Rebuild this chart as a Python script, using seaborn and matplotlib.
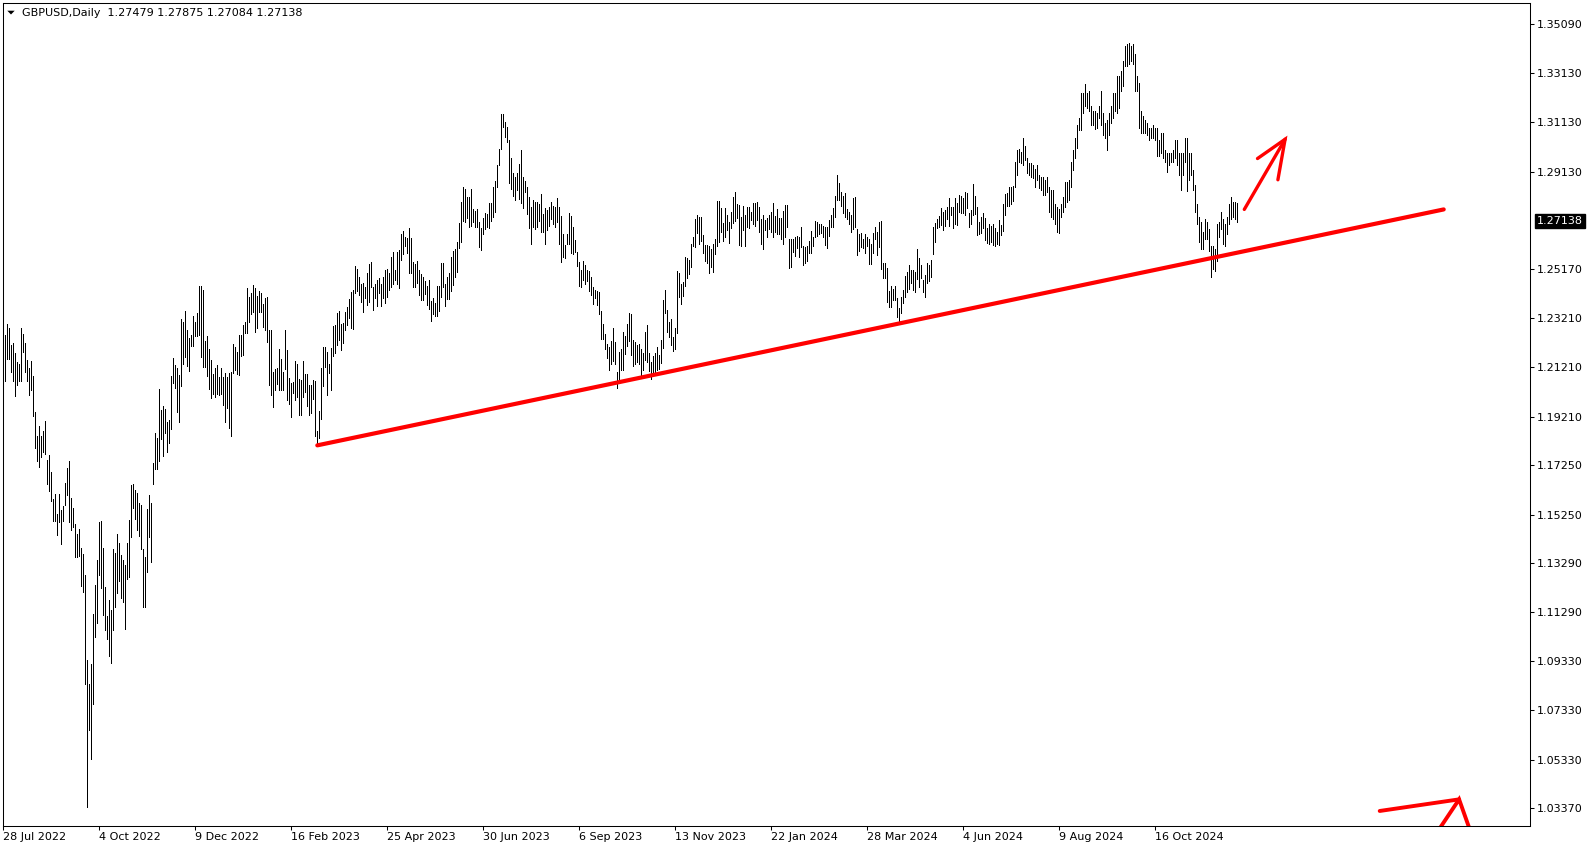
import numpy as np
import matplotlib
matplotlib.use("Agg")
import matplotlib.pyplot as plt
import matplotlib.transforms as mtransforms
from matplotlib.patches import Polygon
import seaborn as sns

# GBPUSD daily bars, 28 Jul 2022 .. 11 Dec 2024
highs = [
    1.2193, 1.2251, 1.2295, 1.2282, 1.2210, 1.2220, 1.2179, 1.2143, 1.2133, 1.2278,
    1.2255, 1.2220, 1.2150, 1.2120, 1.2147, 1.2085, 1.1938, 1.1842, 1.1882, 1.1842,
    1.1863, 1.1904, 1.1747, 1.1765, 1.1697, 1.1589, 1.1607, 1.1526, 1.1610, 1.1542,
    1.1558, 1.1653, 1.1713, 1.1742, 1.1593, 1.1553, 1.1485, 1.1445, 1.1465, 1.1391,
    1.1367, 1.1279, 1.0935, 1.0840, 1.0918, 1.1121, 1.1238, 1.1340, 1.1495, 1.1499,
    1.1391, 1.1232, 1.1113, 1.1180,
    1.1137, 1.1384, 1.1370, 1.1445, 1.1411, 1.1360, 1.1340, 1.1320, 1.1411, 1.1502,
    1.1644, 1.1648, 1.1623, 1.1614, 1.1572, 1.1565, 1.1384, 1.1353, 1.1546, 1.1603,
    1.1572, 1.1735, 1.1857, 1.1833, 1.2032, 1.1947, 1.1964, 1.1954, 1.1900, 1.1907,
    1.2085, 1.2157, 1.2130, 1.2120, 1.2089, 1.2315, 1.2305, 1.2350, 1.2271, 1.2238,
    1.2251, 1.2328, 1.2305, 1.2339, 1.2451, 1.2451, 1.2433, 1.2228, 1.2247, 1.2193,
    1.2150,
    1.2093, 1.2120, 1.2130, 1.2082, 1.2120, 1.2080, 1.2096, 1.2082, 1.2096, 1.2103,
    1.2215, 1.2204, 1.2184, 1.2251, 1.2251, 1.2292, 1.2305, 1.2443, 1.2406, 1.2420,
    1.2454, 1.2440, 1.2410, 1.2431, 1.2420, 1.2379, 1.2400, 1.2406, 1.2271, 1.2271,
    1.2103, 1.2116, 1.2120, 1.2197, 1.2154, 1.2103, 1.2271, 1.2190, 1.2078, 1.2059,
    1.2062, 1.2147, 1.2136, 1.2075, 1.2069, 1.2146, 1.2092, 1.2093, 1.2049, 1.2051,
    1.2069, 1.2066, 1.1862, 1.1943, 1.2120, 1.2204, 1.2204, 1.2184, 1.2136, 1.2201,
    1.2288, 1.2292, 1.2339, 1.2348, 1.2296, 1.2301, 1.2345, 1.2366, 1.2397, 1.2427,
    1.2433, 1.2532, 1.2518, 1.2487, 1.2460, 1.2463, 1.2447, 1.2501, 1.2541, 1.2548,
    1.2447, 1.2460, 1.2474, 1.2483, 1.2460, 1.2487, 1.2514, 1.2518, 1.2501, 1.2568,
    1.2588, 1.2514, 1.2588,
    1.2595, 1.2660, 1.2672, 1.2649, 1.2643, 1.2683,
    1.2643, 1.2548, 1.2539, 1.2551, 1.2514, 1.2497, 1.2485, 1.2471, 1.2450, 1.2474,
    1.2390, 1.2400, 1.2380, 1.2450, 1.2450, 1.2544, 1.2545, 1.2458, 1.2485, 1.2504,
    1.2569, 1.2593, 1.2598, 1.2629, 1.2706, 1.2791, 1.2849, 1.2841, 1.2809, 1.2809,
    1.2842, 1.2760, 1.2755, 1.2761, 1.2710, 1.2683, 1.2724, 1.2744, 1.2741, 1.2784,
    1.2787, 1.2852, 1.2876, 1.2940, 1.3003, 1.3146, 1.3146, 1.3112, 1.3092, 1.3043,
    1.2967, 1.2909, 1.2890, 1.2909, 1.2944, 1.3000, 1.2890, 1.2876, 1.2849, 1.2811,
    1.2768, 1.2798, 1.2791, 1.2791, 1.2782, 1.2822, 1.2741, 1.2764, 1.2757, 1.2768,
    1.2791, 1.2774, 1.2771, 1.2805, 1.2768, 1.2733, 1.2660, 1.2616, 1.2660, 1.2746,
    1.2733, 1.2690, 1.2636, 1.2589, 1.2548, 1.2514, 1.2552, 1.2535, 1.2514, 1.2512,
    1.2487, 1.2447, 1.2433, 1.2431, 1.2427, 1.2350, 1.2296, 1.2255, 1.2217, 1.2204,
    1.2228, 1.2278, 1.2224, 1.2103, 1.2184,
    1.2197, 1.2265, 1.2247, 1.2296, 1.2339, 1.2336, 1.2231, 1.2224, 1.2211, 1.2215,
    1.2193, 1.2177, 1.2265, 1.2292, 1.2177, 1.2143, 1.2166, 1.2180, 1.2204, 1.2170,
    1.2231, 1.2393, 1.2433, 1.2352, 1.2305, 1.2315, 1.2244, 1.2278, 1.2512, 1.2504,
    1.2460, 1.2467, 1.2566, 1.2562, 1.2555, 1.2620, 1.2647, 1.2720, 1.2737, 1.2728,
    1.2730, 1.2656, 1.2616, 1.2616, 1.2612, 1.2598, 1.2620, 1.2639, 1.2795, 1.2795,
    1.2764, 1.2706, 1.2764, 1.2737, 1.2710, 1.2750, 1.2809, 1.2832, 1.2782, 1.2778,
    1.2730, 1.2774, 1.2737, 1.2771, 1.2771, 1.2750, 1.2787, 1.2787, 1.2791, 1.2771,
    1.2720, 1.2737, 1.2717, 1.2724, 1.2737, 1.2750, 1.2784, 1.2733, 1.2760, 1.2724,
    1.2724, 1.2754, 1.2778, 1.2778, 1.2642, 1.2639, 1.2642, 1.2647, 1.2652, 1.2649,
    1.2687, 1.2612, 1.2609, 1.2612, 1.2633, 1.2673, 1.2647, 1.2714, 1.2710, 1.2703,
    1.2703, 1.2693, 1.2687, 1.2687, 1.2717, 1.2737, 1.2764, 1.2814, 1.2899,
    1.2868, 1.2832, 1.2814, 1.2828, 1.2760, 1.2751, 1.2737, 1.2805, 1.2809, 1.2679,
    1.2660, 1.2663, 1.2642, 1.2660, 1.2649, 1.2642, 1.2622, 1.2663, 1.2690, 1.2670,
    1.2710, 1.2714, 1.2545, 1.2545, 1.2522, 1.2431, 1.2450, 1.2437, 1.2450, 1.2400,
    1.2360, 1.2404, 1.2434, 1.2490, 1.2508, 1.2535, 1.2515, 1.2515, 1.2508, 1.2599,
    1.2562, 1.2535, 1.2474, 1.2495, 1.2542, 1.2535, 1.2555, 1.2690, 1.2706, 1.2720,
    1.2733, 1.2764, 1.2751, 1.2757, 1.2771, 1.2805, 1.2771, 1.2771, 1.2805, 1.2787,
    1.2818, 1.2814, 1.2805, 1.2832, 1.2828, 1.2747, 1.2757, 1.2863, 1.2814, 1.2771,
    1.2710, 1.2730, 1.2744, 1.2724, 1.2683, 1.2700, 1.2692, 1.2700, 1.2683, 1.2670,
    1.2717, 1.2697, 1.2782, 1.2822, 1.2825, 1.2852, 1.2852, 1.2855, 1.2953, 1.3000,
    1.3004, 1.2994, 1.3048, 1.3017, 1.2967, 1.2946, 1.2946, 1.2940, 1.2922,
    1.2940, 1.2900, 1.2890, 1.2890, 1.2880, 1.2890, 1.2850, 1.2840, 1.2840, 1.2780,
    1.2770, 1.2760, 1.2780, 1.2810, 1.2870, 1.2870, 1.2880, 1.2950, 1.3000, 1.3050,
    1.3100, 1.3130, 1.3230, 1.3230, 1.3266, 1.3230, 1.3240, 1.3180, 1.3160, 1.3160,
    1.3150, 1.3180, 1.3239, 1.3150, 1.3110, 1.3120, 1.3150, 1.3180, 1.3230, 1.3230,
    1.3300, 1.3300, 1.3320, 1.3360, 1.3420, 1.3430, 1.3434, 1.3420, 1.3430, 1.3390,
    1.3300, 1.3270, 1.3160, 1.3140, 1.3120, 1.3110, 1.3090, 1.3090, 1.3100, 1.3090,
    1.3090, 1.3040, 1.3070, 1.3070, 1.3000, 1.2990, 1.2990, 1.2990, 1.3000, 1.3040,
    1.3040, 1.2990, 1.2990, 1.2990, 1.3050, 1.3050, 1.2990, 1.2990, 1.2920, 1.2860,
    1.2780, 1.2730, 1.2710, 1.2670, 1.2720, 1.2710, 1.2680, 1.2610, 1.2610, 1.2600,
    1.2700, 1.2710, 1.2750, 1.2720, 1.2700, 1.2730, 1.2780, 1.2810, 1.2790, 1.2790,
    1.27875,
]

lows = [
    1.2102, 1.2066, 1.2156, 1.2156, 1.2102, 1.2066, 1.2004, 1.2048, 1.2066, 1.2066,
    1.2183, 1.2102, 1.2066, 1.2008, 1.2031, 1.1923, 1.1796, 1.1742, 1.1718, 1.1758,
    1.1778, 1.1769, 1.1650, 1.1620, 1.1580, 1.1499, 1.1499, 1.1441, 1.1495, 1.1407,
    1.1499, 1.1562, 1.1603, 1.1495, 1.1464, 1.1475, 1.1353, 1.1353, 1.1356, 1.1234,
    1.1211, 1.0840, 1.0341, 1.0651, 1.0536, 1.0759, 1.1029, 1.1086, 1.1279, 1.1229,
    1.1117, 1.1059, 1.1022, 1.0951,
    1.0924, 1.1059, 1.1151, 1.1208, 1.1256, 1.1187, 1.1171, 1.1063, 1.1262, 1.1272,
    1.1432, 1.1553, 1.1505, 1.1464, 1.1437, 1.1387, 1.1151, 1.1151, 1.1293, 1.1432,
    1.1333, 1.1650, 1.1708, 1.1708, 1.1742, 1.1830, 1.1762, 1.1856, 1.1779, 1.1815,
    1.1873, 1.2058, 1.2039, 1.1941, 1.1900, 1.2045, 1.2134, 1.2163, 1.2127, 1.2107,
    1.2207, 1.2207, 1.2247, 1.2247, 1.2251, 1.2161, 1.2123, 1.2123, 1.2085, 1.2035,
    1.1995,
    1.2012, 1.2001, 1.2012, 1.2008, 1.2012, 1.1968, 1.1900, 1.1957, 1.1876, 1.1843,
    1.2096, 1.2109, 1.2093, 1.2089, 1.2166, 1.2170, 1.2258, 1.2258, 1.2305, 1.2336,
    1.2343, 1.2264, 1.2282, 1.2343, 1.2343, 1.2285, 1.2271, 1.2224, 1.2049, 1.2008,
    1.1961, 1.2031, 1.2055, 1.2031, 1.2028, 1.2031, 1.2116, 1.1988, 1.1972, 1.1918,
    1.2017, 1.1990, 1.2001, 1.1927, 1.1927, 1.2001, 1.2021, 1.1965, 1.1927, 1.1934,
    1.1992, 1.1843, 1.1803, 1.1833, 1.1910, 1.2045, 1.2123, 1.2008, 1.2099, 1.2031,
    1.2166, 1.2179, 1.2211, 1.2231, 1.2190, 1.2220, 1.2271, 1.2292, 1.2319, 1.2278,
    1.2275, 1.2420, 1.2431, 1.2413, 1.2386, 1.2346, 1.2400, 1.2373, 1.2386, 1.2444,
    1.2352, 1.2400, 1.2369, 1.2420, 1.2370, 1.2400, 1.2383, 1.2404, 1.2433, 1.2444,
    1.2460, 1.2476, 1.2460,
    1.2440, 1.2557, 1.2579, 1.2612, 1.2582, 1.2501,
    1.2501, 1.2447, 1.2447, 1.2464, 1.2413, 1.2393, 1.2393, 1.2416, 1.2373, 1.2356,
    1.2309, 1.2336, 1.2330, 1.2330, 1.2350, 1.2404, 1.2444, 1.2370, 1.2396, 1.2397,
    1.2431, 1.2454, 1.2487, 1.2507, 1.2602, 1.2629, 1.2714, 1.2710, 1.2724, 1.2690,
    1.2692, 1.2710, 1.2690, 1.2687, 1.2609, 1.2595, 1.2660, 1.2680, 1.2687, 1.2683,
    1.2714, 1.2728, 1.2751, 1.2852, 1.2940, 1.3003, 1.3092, 1.3054, 1.3031, 1.2868,
    1.2841, 1.2814, 1.2798, 1.2838, 1.2802, 1.2784, 1.2764, 1.2832, 1.2741, 1.2683,
    1.2622, 1.2690, 1.2679, 1.2687, 1.2713, 1.2670, 1.2667, 1.2620, 1.2676, 1.2692,
    1.2723, 1.2703, 1.2690, 1.2710, 1.2620, 1.2548, 1.2568, 1.2562, 1.2620, 1.2620,
    1.2582, 1.2579, 1.2589, 1.2531, 1.2451, 1.2447, 1.2474, 1.2460, 1.2471, 1.2431,
    1.2413, 1.2377, 1.2400, 1.2373, 1.2336, 1.2234, 1.2234, 1.2197, 1.2157, 1.2112,
    1.2134, 1.2147, 1.2134, 1.2039, 1.2066,
    1.2109, 1.2109, 1.2174, 1.2207, 1.2228, 1.2170, 1.2126, 1.2136, 1.2143, 1.2134,
    1.2089, 1.2112, 1.2150, 1.2143, 1.2107, 1.2072, 1.2093, 1.2103, 1.2110, 1.2116,
    1.2139, 1.2201, 1.2339, 1.2265, 1.2244, 1.2211, 1.2188, 1.2197, 1.2261, 1.2406,
    1.2377, 1.2409, 1.2449, 1.2481, 1.2500, 1.2525, 1.2612, 1.2606, 1.2666, 1.2620,
    1.2633, 1.2582, 1.2552, 1.2544, 1.2504, 1.2525, 1.2508, 1.2579, 1.2612, 1.2629,
    1.2670, 1.2633, 1.2647, 1.2677, 1.2625, 1.2683, 1.2706, 1.2714, 1.2724, 1.2616,
    1.2612, 1.2677, 1.2612, 1.2690, 1.2683, 1.2717, 1.2703, 1.2693, 1.2717, 1.2670,
    1.2620, 1.2598, 1.2677, 1.2650, 1.2679, 1.2670, 1.2650, 1.2670, 1.2660, 1.2660,
    1.2642, 1.2622, 1.2647, 1.2690, 1.2521, 1.2528, 1.2589, 1.2571, 1.2602, 1.2568,
    1.2609, 1.2535, 1.2544, 1.2552, 1.2582, 1.2585, 1.2612, 1.2647, 1.2652, 1.2660,
    1.2666, 1.2647, 1.2616, 1.2602, 1.2652, 1.2690, 1.2690, 1.2730, 1.2798,
    1.2798, 1.2774, 1.2747, 1.2730, 1.2720, 1.2703, 1.2670, 1.2679, 1.2690, 1.2575,
    1.2593, 1.2609, 1.2602, 1.2585, 1.2611, 1.2541, 1.2541, 1.2585, 1.2639, 1.2575,
    1.2609, 1.2517, 1.2482, 1.2482, 1.2387, 1.2366, 1.2366, 1.2393, 1.2393, 1.2326,
    1.2298, 1.2339, 1.2382, 1.2404, 1.2427, 1.2437, 1.2461, 1.2434, 1.2427, 1.2477,
    1.2447, 1.2481, 1.2427, 1.2407, 1.2464, 1.2471, 1.2488, 1.2579, 1.2629, 1.2683,
    1.2690, 1.2697, 1.2676, 1.2693, 1.2720, 1.2693, 1.2737, 1.2683, 1.2703, 1.2697,
    1.2751, 1.2744, 1.2747, 1.2737, 1.2764, 1.2690, 1.2703, 1.2737, 1.2741, 1.2656,
    1.2660, 1.2663, 1.2683, 1.2636, 1.2625, 1.2619, 1.2629, 1.2615, 1.2611, 1.2622,
    1.2615, 1.2656, 1.2673, 1.2737, 1.2774, 1.2774, 1.2782, 1.2795, 1.2849, 1.2899,
    1.2950, 1.2946, 1.2940, 1.2960, 1.2906, 1.2899, 1.2892, 1.2886, 1.2852,
    1.2880, 1.2845, 1.2840, 1.2820, 1.2820, 1.2830, 1.2750, 1.2730, 1.2720, 1.2700,
    1.2670, 1.2665, 1.2730, 1.2750, 1.2770, 1.2790, 1.2800, 1.2850, 1.2920, 1.2970,
    1.3010, 1.3080, 1.3080, 1.3150, 1.3180, 1.3170, 1.3160, 1.3100, 1.3100, 1.3087,
    1.3090, 1.3130, 1.3100, 1.3060, 1.3050, 1.3002, 1.3060, 1.3110, 1.3130, 1.3160,
    1.3150, 1.3170, 1.3240, 1.3260, 1.3340, 1.3340, 1.3350, 1.3360, 1.3350, 1.3240,
    1.3240, 1.3090, 1.3070, 1.3070, 1.3070, 1.3060, 1.3040, 1.3050, 1.3050, 1.3040,
    1.2975, 1.2975, 1.2990, 1.2970, 1.2950, 1.2910, 1.2940, 1.2950, 1.2950, 1.2970,
    1.2940, 1.2900, 1.2840, 1.2900, 1.2950, 1.2835, 1.2880, 1.2900, 1.2840, 1.2750,
    1.2700, 1.2630, 1.2600, 1.2600, 1.2640, 1.2640, 1.2590, 1.2487, 1.2520, 1.2510,
    1.2550, 1.2650, 1.2680, 1.2620, 1.2610, 1.2660, 1.2700, 1.2720, 1.2730, 1.2720,
    1.27084,
]

date_labels = ['28 Jul 2022', '4 Oct 2022', '9 Dec 2022', '16 Feb 2023', '25 Apr 2023',
               '30 Jun 2023', '6 Sep 2023', '13 Nov 2023', '22 Jan 2024', '28 Mar 2024',
               '4 Jun 2024', '9 Aug 2024', '16 Oct 2024']
date_bars = [0, 48, 96, 144, 192, 240, 288, 336, 384, 432, 480, 528, 576]

price_ticks = [1.35090, 1.33130, 1.31130, 1.29130, 1.25170, 1.23210, 1.21210, 1.19210,
               1.17250, 1.15250, 1.13290, 1.11290, 1.09330, 1.07330, 1.05330, 1.03370]

header = "GBPUSD,Daily  1.27479 1.27875 1.27084 1.27138"
last_price = 1.27138

# support line and the two hand drawn arrows (bar index, price)
trend_bars = [157.0, 720.2]
trend_prices = [1.1805, 1.2760]
arrow_up_bars = [620.5, 640.9]
arrow_up_prices = [1.2760, 1.3044]
arrow_up_head_bars = [627.1, 640.9, 637.3]
arrow_up_head_prices = [1.2966, 1.3044, 1.2880]
arrow_low_bars = [688.2, 727.9]
arrow_low_prices = [1.0325, 1.0372]
arrow_low_head_bars = [714.7, 727.9, 734.9]
arrow_low_head_prices = [1.0212, 1.0372, 1.0212]

assert len(highs) == len(lows)

sns.set_style("white")
plt.rcParams['font.family'] = ['DejaVu Sans']

W, H = 1594, 850
fig = plt.figure(figsize=(W / 100, H / 100), dpi=100)
ax = fig.add_axes([2.5 / W, (H - 825.5) / H, 1527.5 / W, 822.8 / H])

# price bars (high-low only, like the terminal at this zoom), 1 px wide
x = np.arange(len(highs))
ax.vlines(x, lows, highs, colors='black', linewidth=0.72, antialiased=False)

sns.lineplot(x=trend_bars, y=trend_prices, ax=ax, color='#ff0000', linewidth=3.0,
             sort=False, solid_capstyle='round')
ax.plot(arrow_up_bars, arrow_up_prices, color='#ff0000', lw=2.4, solid_capstyle='round')
ax.plot(arrow_up_head_bars, arrow_up_head_prices, color='#ff0000', lw=2.4,
        solid_capstyle='round', solid_joinstyle='miter')
ax.plot(arrow_low_bars, arrow_low_prices, color='#ff0000', lw=2.8, solid_capstyle='round')
ax.plot(arrow_low_head_bars, arrow_low_head_prices, color='#ff0000', lw=2.8,
        solid_capstyle='round', solid_joinstyle='miter')

ax.set_xlim(-0.4, 763.35)
ax.set_ylim(1.02662, 1.35968)

for s in ax.spines.values():
    s.set_visible(True)
    s.set_color('black')
    s.set_linewidth(0.75)

ax.set_xticks(date_bars)
ax.set_xticklabels(date_labels, ha='left')
ax.tick_params(axis='x', bottom=True, direction='out', length=3, width=0.75,
               pad=1.5, labelsize=8, colors='black')

ax.yaxis.tick_right()
ax.set_yticks(price_ticks)
ax.set_yticklabels([f'{p:.5f}' for p in price_ticks])
ax.tick_params(axis='y', left=False, right=True, direction='out', length=3, width=0.75,
               pad=2, labelsize=8, colors='black')
ax.set_xlabel('')
ax.set_ylabel('')

# current price tag on the price scale
trans = mtransforms.blended_transform_factory(ax.transAxes, ax.transData)
ax.text(1 + 7 / 1527.5, last_price, f'{last_price:.5f}', transform=trans, ha='left',
        va='center', fontsize=8, color='white', clip_on=False,
        bbox=dict(boxstyle='square,pad=0.2', fc='black', ec='black'))

# header
tri = Polygon([[7.3 / W, 1 - 10.7 / H], [14.7 / W, 1 - 10.7 / H], [11 / W, 1 - 14.5 / H]],
              closed=True, transform=fig.transFigure, fc='black', ec='none')
fig.add_artist(tri)
fig.text(21.5 / W, 1 - 12.7 / H, header, fontsize=8, va='center', ha='left', color='black')

fig.savefig('out.png', dpi=100)
